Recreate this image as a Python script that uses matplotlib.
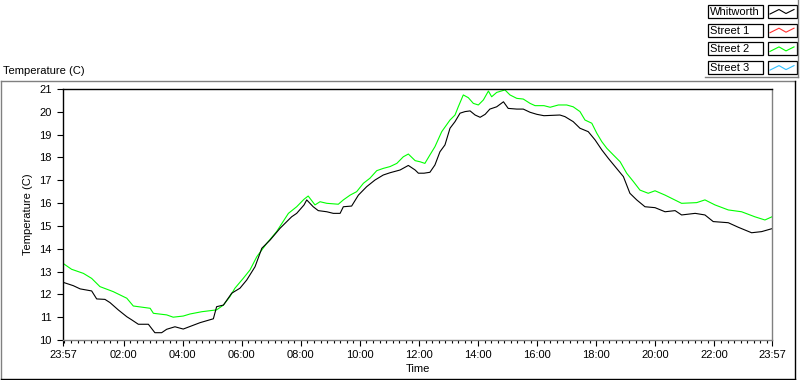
import matplotlib
matplotlib.use("Agg")
import matplotlib.pyplot as plt
from matplotlib.lines import Line2D
from matplotlib.patches import Rectangle

plt.rcParams['font.family'] = ['Liberation Sans', 'DejaVu Sans']
plt.rcParams['font.size'] = 8

# hours elapsed since 23:57
whit_t = [0.00, 0.35, 0.58, 0.97, 1.14, 1.42, 1.59, 1.87, 2.16, 2.33, 2.55, 2.89,
          3.11, 3.34, 3.51, 3.79, 4.07, 4.64, 5.09, 5.20, 5.43, 5.71, 5.99, 6.22,
          6.50, 6.73, 7.01, 7.35, 7.74, 7.91, 8.16, 8.25, 8.47, 8.64, 8.93, 9.15,
          9.38, 9.49, 9.77, 10.00, 10.28, 10.56, 10.84, 11.07, 11.41, 11.69, 11.92,
          12.03, 12.22, 12.42, 12.59, 12.76, 12.93, 13.10, 13.27, 13.44, 13.61,
          13.78, 13.95, 14.12, 14.29, 14.45, 14.68, 14.91, 15.07, 15.36, 15.58,
          15.81, 16.04, 16.28, 16.82, 16.99, 17.27, 17.50, 17.78, 18.01, 18.24,
          18.46, 18.74, 18.97, 19.19, 19.42, 19.70, 20.04, 20.38, 20.72, 20.94,
          21.40, 21.73, 22.01, 22.52, 22.86, 23.31, 23.65, 24.00]
whit_v = [12.53, 12.38, 12.24, 12.15, 11.80, 11.78, 11.64, 11.32, 11.02, 10.88, 10.69, 10.69,
          10.32, 10.32, 10.47, 10.58, 10.48, 10.76, 10.93, 11.46, 11.53, 12.05, 12.27, 12.63,
          13.21, 14.02, 14.38, 14.90, 15.40, 15.55, 15.92, 16.14, 15.84, 15.67, 15.62, 15.55,
          15.55, 15.84, 15.87, 16.35, 16.72, 17.01, 17.23, 17.33, 17.45, 17.65, 17.45,
          17.31, 17.31, 17.35, 17.67, 18.25, 18.55, 19.28, 19.57, 19.94, 20.01,
          20.04, 19.86, 19.76, 19.89, 20.12, 20.22, 20.44, 20.15, 20.12, 20.12,
          19.98, 19.89, 19.83, 19.86, 19.79, 19.57, 19.28, 19.13, 18.77, 18.33,
          17.96, 17.52, 17.16, 16.43, 16.14, 15.84, 15.80, 15.62, 15.67, 15.48,
          15.55, 15.48, 15.19, 15.14, 14.94, 14.70, 14.75, 14.88]

street2_t = [0.00, 0.29, 0.69, 0.97, 1.25, 1.70, 2.16, 2.38, 2.95, 3.06, 3.51, 3.73,
             4.07, 4.30, 4.70, 5.20, 5.43, 5.65, 5.82, 6.10, 6.33, 6.56, 6.90, 7.23,
             7.63, 7.91, 8.16, 8.30, 8.53, 8.70, 8.93, 9.32, 9.49, 9.72, 9.94, 10.17,
             10.39, 10.62, 10.84, 11.07, 11.30, 11.52, 11.69, 11.92, 12.09, 12.25,
             12.42, 12.59, 12.82, 13.10, 13.27, 13.38, 13.55, 13.72, 13.89, 14.06,
             14.23, 14.40, 14.51, 14.68, 14.96, 15.13, 15.36, 15.58, 15.81, 15.98,
             16.28, 16.49, 16.77, 17.05, 17.27, 17.50, 17.67, 17.90, 18.07, 18.24,
             18.41, 18.63, 18.86, 19.08, 19.31, 19.53, 19.81, 20.04, 20.38, 20.94,
             21.45, 21.73, 22.07, 22.52, 22.97, 23.42, 23.76, 24.00]
street2_v = [13.36, 13.10, 12.92, 12.70, 12.34, 12.12, 11.83, 11.49, 11.39, 11.17, 11.10, 11.00,
             11.05, 11.14, 11.24, 11.32, 11.53, 11.90, 12.27, 12.70, 13.07, 13.65, 14.24, 14.75,
             15.55, 15.84, 16.17, 16.31, 15.92, 16.06, 15.99, 15.95, 16.14, 16.35, 16.50, 16.87,
             17.09, 17.42, 17.52, 17.60, 17.74, 18.03, 18.15, 17.86, 17.81, 17.74,
             18.11, 18.47, 19.13, 19.64, 19.86, 20.22, 20.74, 20.62, 20.37, 20.30,
             20.52, 20.91, 20.66, 20.85, 20.96, 20.74, 20.59, 20.56, 20.37, 20.27,
             20.27, 20.20, 20.30, 20.30, 20.22, 20.01, 19.64, 19.50, 19.06, 18.69,
             18.40, 18.11, 17.81, 17.31, 16.94, 16.57, 16.43, 16.54, 16.35, 15.99,
             16.02, 16.14, 15.92, 15.70, 15.62, 15.40, 15.26, 15.40]

# Street 1 and Street 3 have no data on the chart
street1_t, street1_v = [], []
street3_t, street3_v = [], []

series_names = ['Whitworth', 'Street 1', 'Street 2', 'Street 3']
series_colors = ['#000000', '#ff3030', '#00ff00', '#30c0ff']

x_tick_pos = [0, 2.05, 4.05, 6.05, 8.05, 10.05, 12.05, 14.05, 16.05, 18.05, 20.05, 22.05, 24]
x_tick_labels = ['23:57', '02:00', '04:00', '06:00', '08:00', '10:00', '12:00',
                 '14:00', '16:00', '18:00', '20:00', '22:00', '23:57']
y_ticks = list(range(10, 22))

W, H = 800, 380


def fx(x):
    return x / W


def fy(y):
    return 1 - y / H


fig = plt.figure(figsize=(8, 3.8), dpi=100)
fig.patch.set_facecolor('white')

ax = fig.add_axes([fx(63), fy(340), fx(772) - fx(63), fy(89) - fy(340)])
data = [(whit_t, whit_v), (street1_t, street1_v), (street2_t, street2_v), (street3_t, street3_v)]
# draw green under black like the original
for idx in [1, 3, 2, 0]:
    t, v = data[idx]
    ax.plot(t, v, color=series_colors[idx], lw=0.8)

ax.set_xlim(0, 24)
ax.set_ylim(10, 21)
ax.set_yticks(y_ticks)
ax.set_xticks(x_tick_pos)
ax.set_xticklabels(x_tick_labels)
minors = [0.05 + k * 2 / 9 for k in range(108) if k % 9 != 0]
minors = [0.05] + [m for m in minors if m < 24]
ax.set_xticks(minors, minor=True)
ax.tick_params(axis='both', which='major', length=4.3, width=0.8, color='black',
               labelsize=8, pad=3)
ax.tick_params(axis='y', pad=4)
ax.tick_params(axis='x', which='minor', length=2.2, width=0.8, color='black')
ax.spines['left'].set_color('black')
ax.spines['top'].set_color('black')
ax.spines['right'].set_color('#808080')
ax.spines['bottom'].set_color('#808080')
for s in ax.spines.values():
    s.set_linewidth(1.0)
ax.set_xlabel('Time', fontsize=8, labelpad=3)
ax.set_ylabel('Temperature (C)', fontsize=8, labelpad=4)

# outer panel frame
fig.add_artist(Line2D([fx(1), fx(795)], [fy(81), fy(81)], color='#808080', lw=1))
fig.add_artist(Line2D([fx(1), fx(1)], [fy(81), fy(379)], color='#808080', lw=1))
fig.add_artist(Line2D([fx(795), fx(795)], [fy(81), fy(379)], color='black', lw=1))
fig.add_artist(Line2D([fx(1), fx(795)], [fy(379), fy(379)], color='black', lw=1))
fig.text(fx(3), fy(71), 'Temperature (C)', fontsize=8, va='center', ha='left')

# legend
fig.add_artist(Line2D([fx(705), fx(798)], [fy(77), fy(77)], color='#808080', lw=1))
fig.add_artist(Line2D([fx(798), fx(798)], [fy(0), fy(77)], color='#808080', lw=1))
for i, name in enumerate(series_names):
    top = 5 + i * 18.7
    fig.add_artist(Rectangle((fx(708), fy(top + 13)), fx(55), 13 / H, fill=False,
                             edgecolor='black', lw=0.9, transform=fig.transFigure))
    fig.text(fx(710), fy(top + 6.8), name, fontsize=8, va='center', ha='left')
    fig.add_artist(Rectangle((fx(768), fy(top + 13)), fx(29), 13 / H, fill=False,
                             edgecolor='black', lw=0.9, transform=fig.transFigure))
    xs = [fx(x) for x in [770, 779, 786, 794]]
    ys = [fy(top + y) for y in [9, 4.5, 8.5, 4.5]]
    fig.add_artist(Line2D(xs, ys, color=series_colors[i], lw=0.8))

fig.savefig('out.png', dpi=100)
